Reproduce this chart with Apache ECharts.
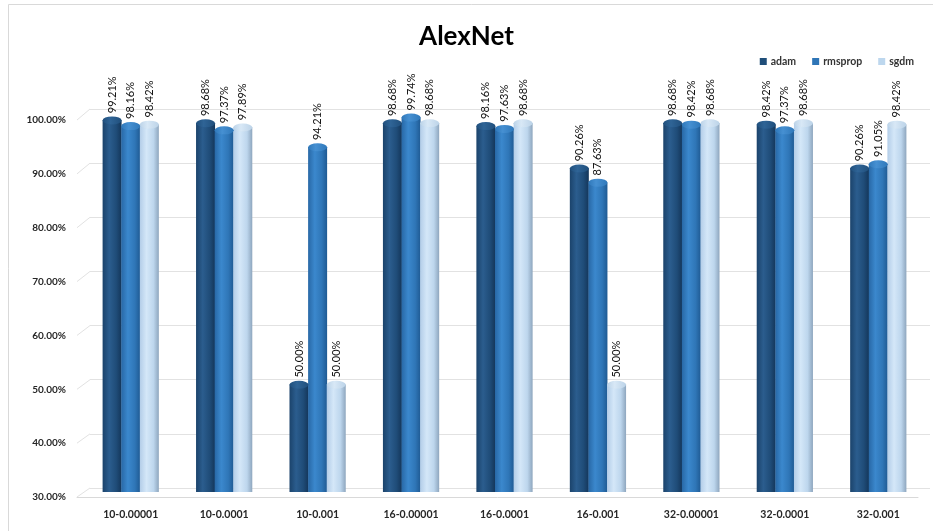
<!DOCTYPE html>
<html>
<head>
<meta charset="utf-8">
<script src="https://cdn.jsdelivr.net/npm/echarts@6/dist/echarts.min.js"></script>
<style>
  html, body { margin: 0; padding: 0; background: #fff; }
  #chart { width: 933px; height: 531px; }
</style>
</head>
<body>
<div id="chart"></div>
<script>
// Accuracy (%) per batch size - learning rate setting, one series per optimizer
const categories = ['10-0.00001', '10-0.0001', '10-0.001', '16-0.00001', '16-0.0001', '16-0.001', '32-0.00001', '32-0.0001', '32-0.001'];
const seriesNames = ['adam', 'rmsprop', 'sgdm'];
const adam    = [99.21, 98.68, 50.00, 98.68, 98.16, 90.26, 98.68, 98.42, 90.26];
const rmsprop = [98.16, 97.37, 94.21, 99.74, 97.63, 87.63, 98.42, 97.37, 91.05];
const sgdm    = [98.42, 97.89, 50.00, 98.68, 98.68, 50.00, 98.68, 98.68, 98.42];
const yTicks  = [30, 40, 50, 60, 70, 80, 90, 100];

const FONT = 'Lato, "Open Sans", sans-serif';
const G = echarts.graphic.LinearGradient;

// cylinder shading: body gradient across the width, cap slightly lighter
const palette = {
  adam: {
    flat: '#1f4e79',
    body: [['#1b436b', 0], ['#2b5d8e', 0.35], ['#1f4c78', 0.72], ['#14365a', 1]],
    cap: ['#2f6496', '#204f7c'], capBorder: '#173f66'
  },
  rmsprop: {
    flat: '#2e75b6',
    body: [['#2868a6', 0], ['#3b88cd', 0.35], ['#2f76b7', 0.72], ['#1f5a93', 1]],
    cap: ['#4690d2', '#2f78ba'], capBorder: '#2765a0'
  },
  sgdm: {
    flat: '#bdd7ee',
    body: [['#b3cde8', 0], ['#d4e7f8', 0.35], ['#bdd6ed', 0.72], ['#8ea6be', 1]],
    cap: ['#d8e8f6', '#bcd3e8'], capBorder: '#9db3c8'
  }
};
const values = { adam, rmsprop, sgdm };

function bodyGrad(p) {
  return new G(0, 0, 1, 0, p.body.map(s => ({ offset: s[1], color: s[0] })));
}
function capGrad(p) {
  return new G(0, 0, 1, 0, [{ offset: 0, color: p.cap[1] }, { offset: 0.4, color: p.cap[0] }, { offset: 1, color: p.cap[1] }]);
}

const BAR_W = 19;
const series = [];
seriesNames.forEach(name => {
  const p = palette[name];
  series.push({
    name, type: 'bar', xAxisIndex: 0, yAxisIndex: 0,
    data: values[name], barWidth: BAR_W, barGap: '-2%',
    itemStyle: { color: bodyGrad(p) },
    label: {
      show: true, position: 'top', rotate: 90, distance: 7,
      align: 'left', verticalAlign: 'middle',
      fontFamily: FONT, fontSize: 11, color: '#111',
      formatter: d => d.value.toFixed(2) + '%'
    },
    z: 2
  });
});
// top caps of the cylinders
seriesNames.forEach(name => {
  const p = palette[name];
  series.push({
    name, type: 'pictorialBar', xAxisIndex: 0, yAxisIndex: 0,
    data: values[name], barWidth: BAR_W, barGap: '-2%',
    symbol: 'circle', symbolSize: [BAR_W, 8], symbolPosition: 'end', symbolOffset: [0, '-50%'],
    itemStyle: { color: capGrad(p), borderColor: p.capBorder, borderWidth: 0.6 },
    z: 3
  });
});
// rounded bottoms of the cylinders
seriesNames.forEach(name => {
  const p = palette[name];
  series.push({
    name, type: 'pictorialBar', xAxisIndex: 1, yAxisIndex: 0,
    data: values[name], barWidth: BAR_W, barGap: '-2%',
    symbol: 'circle', symbolSize: [BAR_W, 8], symbolPosition: 'start', symbolOffset: [0, '50%'],
    itemStyle: { color: bodyGrad(p) },
    z: 1
  });
});

const option = {
  animation: false,
  backgroundColor: '#fff',
  title: {
    text: 'AlexNet', left: 'center', top: 19,
    textStyle: { fontFamily: FONT, fontSize: 26, fontWeight: 'bold', color: '#000' }
  },
  legend: {
    right: 14, top: 51, itemWidth: 7, itemHeight: 7, itemGap: 16,
    icon: 'rect',
    textStyle: { fontFamily: FONT, fontSize: 10.5, fontWeight: 'bold', color: '#333', padding: [0, 0, 0, -1] },
    data: seriesNames.map(n => ({ name: n, itemStyle: { color: palette[n].flat } }))
  },
  grid: [
    { left: 84, right: 8, top: 116, bottom: 39 },   // cylinders
    { left: 77, right: 15, top: 120, bottom: 34 },  // front: value labels + floor edge
    { left: 90, right: 3, top: 109, bottom: 43 }    // back wall gridlines
  ],
  xAxis: [
    {
      type: 'category', gridIndex: 0, data: categories,
      axisLine: { show: false }, axisTick: { show: false },
      axisLabel: { margin: 17, fontFamily: FONT, fontSize: 10.5, fontWeight: 'bold', color: '#262626' }
    },
    { type: 'category', gridIndex: 0, data: categories, show: false },
    {
      type: 'category', gridIndex: 1, data: [''],
      axisLine: { lineStyle: { color: '#d9d9d9' } }, axisTick: { show: false }, axisLabel: { show: false }
    },
    { type: 'category', gridIndex: 2, data: [''], show: false }
  ],
  yAxis: [
    { type: 'value', gridIndex: 0, min: 30, max: 100, interval: 10, show: false },
    {
      type: 'value', gridIndex: 1, min: 30, max: 100, interval: 10,
      axisLine: { show: false }, axisTick: { show: false }, splitLine: { show: false },
      axisLabel: {
        margin: 11, fontFamily: FONT, fontSize: 10, fontWeight: 'bold', color: '#262626',
        formatter: v => v.toFixed(2) + '%'
      }
    },
    {
      type: 'value', gridIndex: 2, min: 30, max: 100, interval: 10,
      axisLine: { show: false }, axisTick: { show: false }, axisLabel: { show: false },
      splitLine: { lineStyle: { color: '#e2e2e2', width: 1 } }
    }
  ],
  series
};

const chart = echarts.init(document.getElementById('chart'), null, { renderer: 'canvas' });
chart.setOption(option);

// chart border and the short diagonal connectors from each front tick to the back wall
const frontX = 77;
const backX = 90;
const graphics = [{
  type: 'rect', silent: true, z: -1,
  shape: { x: 8.5, y: 4.5, width: 940, height: 540 },
  style: { fill: null, stroke: '#d9d9d9', lineWidth: 1 }
}];
yTicks.forEach(v => {
  const yf = chart.convertToPixel({ yAxisIndex: 1 }, v);
  const yb = chart.convertToPixel({ yAxisIndex: 2 }, v);
  graphics.push({
    type: 'line', silent: true, z: -1,
    shape: { x1: frontX, y1: yf, x2: backX, y2: yb },
    style: { stroke: '#e2e2e2', lineWidth: 1 }
  });
});
chart.setOption({ graphic: graphics });
</script>
</body>
</html>
